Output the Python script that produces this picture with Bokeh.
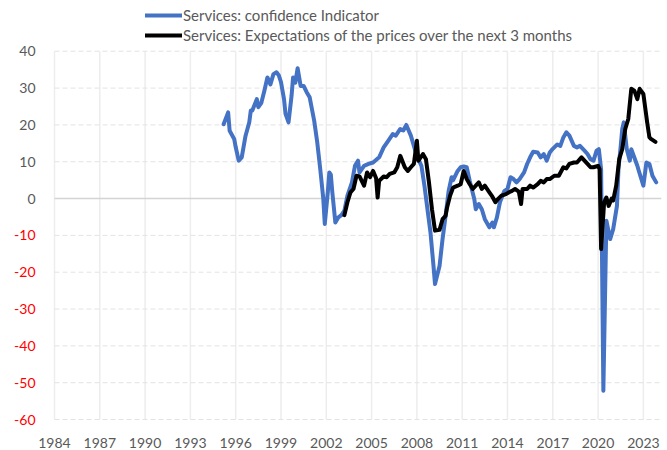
from bokeh.plotting import figure
from bokeh.models import Range1d, FixedTicker, Legend, LegendItem, Label
from bokeh.embed import file_html
from bokeh.resources import INLINE

# ---- data ----
blue_years = [1995.2, 1995.5, 1995.6, 1995.9, 1996.0, 1996.2, 1996.4, 1996.65, 1996.9, 1997.0,
              1997.1, 1997.4, 1997.5, 1997.7, 1997.9, 1998.1, 1998.3, 1998.5, 1998.7, 1998.85,
              1999.0, 1999.2, 1999.3, 1999.5, 1999.7, 1999.8, 1999.95, 2000.1, 2000.3, 2000.5,
              2000.7, 2000.9, 2001.2, 2001.4, 2001.6, 2001.8, 2001.9, 2002.1, 2002.2, 2002.3,
              2002.4, 2002.6, 2002.8, 2003.0, 2003.2, 2003.4, 2003.7, 2003.9, 2004.1, 2004.2,
              2004.5, 2004.8, 2005.1, 2005.5, 2005.8, 2006.1, 2006.4, 2006.6, 2006.9, 2007.1,
              2007.3, 2007.6, 2007.8, 2008.0, 2008.3, 2008.5, 2008.7, 2008.9, 2009.1, 2009.2,
              2009.5, 2009.7, 2009.9, 2010.1, 2010.3, 2010.4, 2010.7, 2010.9, 2011.1, 2011.3,
              2011.5, 2011.8, 2011.9, 2012.1, 2012.3, 2012.5, 2012.8, 2013.0, 2013.1, 2013.3,
              2013.5, 2013.8, 2014.0, 2014.2, 2014.4, 2014.6, 2014.8, 2015.1, 2015.3, 2015.5,
              2015.7, 2016.0, 2016.2, 2016.4, 2016.6, 2016.8, 2017.0, 2017.3, 2017.5, 2017.7,
              2017.9, 2018.1, 2018.4, 2018.6, 2018.8, 2019.1, 2019.3, 2019.5, 2019.7, 2019.9,
              2020.05, 2020.2, 2020.35, 2020.55, 2020.8, 2021.0, 2021.25, 2021.35, 2021.5, 2021.6,
              2021.7, 2021.9, 2022.1, 2022.2, 2022.6, 2022.7, 2023.0, 2023.2, 2023.4, 2023.6,
              2023.85]
blue_values = [20.2, 23.4, 18.4, 16.2, 14.0, 10.3, 11.2, 17.0, 20.7, 23.9,
               23.9, 27.0, 24.8, 26.0, 29.3, 32.9, 31.0, 33.8, 34.3, 33.5,
               31.6, 27.0, 23.0, 20.7, 27.9, 32.9, 31.5, 35.4, 30.6, 30.6,
               28.9, 27.5, 21.1, 15.3, 8.0, 0.0, -6.9, 1.7, 7.1, 6.5,
               1.7, -6.5, -5.1, -4.5, -3.3, 0.8, 4.4, 8.9, 10.3, 7.1,
               8.9, 9.4, 9.8, 11.2, 13.9, 15.7, 17.5, 17.1, 18.9, 18.5,
               20.0, 17.1, 14.3, 11.6, 8.9, 3.5, -2.9, -9.2, -18.3, -23.2,
               -18.3, -11.0, -4.7, 2.0, 5.8, 5.0, 7.5, 8.5, 8.7, 8.5,
               4.8, -0.1, -2.9, -1.5, -2.9, -5.6, -7.8, -6.5, -7.8, -5.1,
               -1.0, 2.1, 2.6, 5.8, 5.3, 4.4, 5.3, 7.1, 9.4, 11.2,
               12.7, 12.5, 11.2, 12.1, 10.3, 12.5, 13.5, 14.7, 14.3, 16.6,
               18.0, 17.1, 14.3, 13.9, 14.3, 13.0, 12.1, 10.7, 10.3, 13.0,
               13.4, 8.0, -52.2, -6.0, -11.0, -8.3, -2.0, 8.0, 14.3, 18.9,
               20.7, 13.4, 10.3, 13.4, 8.9, 7.5, 3.5, 9.8, 9.4, 6.2,
               4.4]

black_years = [2003.2, 2003.4, 2003.6, 2003.8, 2004.0, 2004.2, 2004.5, 2004.7, 2004.9, 2005.1,
               2005.3, 2005.4, 2005.5, 2005.8, 2006.0, 2006.2, 2006.5, 2006.7, 2006.9, 2007.2,
               2007.4, 2007.6, 2007.8, 2008.0, 2008.1, 2008.4, 2008.6, 2008.8, 2009.0, 2009.2,
               2009.5, 2009.7, 2009.9, 2010.0, 2010.2, 2010.4, 2010.7, 2010.9, 2011.1, 2011.3,
               2011.5, 2011.7, 2011.9, 2012.1, 2012.3, 2012.5, 2012.8, 2013.0, 2013.2, 2013.4,
               2013.6, 2013.9, 2014.1, 2014.3, 2014.5, 2014.75, 2014.9, 2015.0, 2015.3, 2015.5,
               2015.7, 2016.0, 2016.2, 2016.4, 2016.6, 2016.8, 2017.1, 2017.4, 2017.7, 2017.9,
               2018.1, 2018.4, 2018.6, 2018.9, 2019.1, 2019.3, 2019.5, 2019.7, 2020.0, 2020.1,
               2020.2, 2020.4, 2020.55, 2020.7, 2020.9, 2021.0, 2021.2, 2021.4, 2021.6, 2021.8,
               2022.0, 2022.2, 2022.4, 2022.6, 2022.75, 2023.0, 2023.25, 2023.4, 2023.5, 2023.8]
black_values = [-4.5, -1.0, 1.7, 2.6, 6.2, 6.0, 3.5, 7.1, 5.8, 7.5,
                5.5, 0.3, 4.8, 6.0, 5.8, 6.7, 7.1, 8.5, 11.6, 8.5,
                7.5, 8.5, 9.4, 15.7, 10.3, 12.1, 10.7, 4.4, -2.9, -8.7,
                -8.5, -5.6, -4.7, -2.4, 0.8, 3.0, 3.5, 3.9, 7.5, 5.3,
                3.9, 2.6, 3.5, 4.4, 2.6, 3.5, 1.7, 0.5, -1.0, 0.0,
                0.8, 1.2, 1.7, 2.1, 2.6, 1.9, -1.5, 2.6, 2.6, 3.5,
                3.0, 3.9, 4.8, 4.4, 5.3, 5.3, 6.2, 6.2, 8.5, 8.2,
                9.4, 9.8, 9.8, 11.2, 10.3, 9.4, 8.5, 8.5, 8.9, 8.0,
                -13.7, -1.0, 0.3, -2.0, 0.0, -0.5, 3.5, 10.7, 13.4, 18.9,
                21.6, 29.8, 29.3, 27.0, 29.8, 28.4, 20.7, 16.6, 16.2, 15.4]

x_ticks = [1984, 1987, 1990, 1993, 1996, 1999, 2002, 2005, 2008, 2011, 2014, 2017, 2020, 2023]
y_ticks = [-60, -50, -40, -30, -20, -10, 0, 10, 20, 30, 40]
x_end = 2024.2

series_names = ["Services: confidence Indicator",
                "Services: Expectations of the prices over the next 3 months"]

FONT = "Lato"
GREY = "#595959"

# frame covers the whole canvas except the x-axis strip, so that the legend
# and the value labels lie inside it (annotations are clipped to the frame)
PX_PER_YEAR = 15.1
PX_PER_UNIT = 3.7
x_start = x_ticks[0] - 54 / PX_PER_YEAR
y_top = y_ticks[-1] + 51 / PX_PER_UNIT
y_bottom = y_ticks[0] - 9 / PX_PER_UNIT

p = figure(width=667, height=450, output_backend="svg", toolbar_location=None,
           x_range=Range1d(x_start, x_end), y_range=Range1d(y_bottom, y_top),
           y_axis_location=None,
           min_border_left=0, min_border_right=6, min_border_top=0, min_border_bottom=20)
p.outline_line_color = None
p.background_fill_color = "white"
p.border_fill_color = "white"
p.xgrid.visible = False
p.ygrid.visible = False

# x axis
p.xaxis.ticker = FixedTicker(ticks=x_ticks)
p.xaxis.axis_line_color = None
p.xaxis.major_tick_line_color = None
p.xaxis.minor_tick_line_color = None
p.xaxis.major_label_standoff = 3
p.xaxis.major_label_text_font = FONT
p.xaxis.major_label_text_font_size = "14px"
p.xaxis.major_label_text_color = GREY

# grid lines (only over the value area)
p.segment(x0=x_ticks, x1=x_ticks, y0=[y_ticks[0]] * len(x_ticks), y1=[y_ticks[-1]] * len(x_ticks),
          line_color="#ededed", line_width=1.5)
other = [t for t in y_ticks if t != 0]
p.segment(x0=[x_ticks[0]] * len(other), x1=[x_end] * len(other), y0=other, y1=other,
          line_color="#e3e3e3", line_width=1, line_dash="5 3")
p.segment(x0=[x_ticks[0]], x1=[x_end], y0=[0], y1=[0], line_color="#d4d4d4", line_width=1.5)

# value labels (negative in red)
for t in y_ticks:
    p.add_layout(Label(x=x_ticks[0], y=t, x_offset=-19, text=str(t),
                       text_align="right", text_baseline="middle",
                       text_font=FONT, text_font_size="14px",
                       text_color="red" if t < 0 else GREY))

r1 = p.line(blue_years, blue_values, line_color="#4472C4", line_width=4,
            line_join="round", line_cap="round")
r2 = p.line(black_years, black_values, line_color="black", line_width=4,
            line_join="round", line_cap="round")

legend = Legend(items=[LegendItem(label=series_names[0], renderers=[r1]),
                       LegendItem(label=series_names[1], renderers=[r2])],
                location=(145, 383), orientation="vertical",
                label_text_font=FONT, label_text_font_size="15px",
                label_text_color=GREY, glyph_width=37, glyph_height=20,
                label_height=20, label_standoff=1, spacing=0, padding=0, margin=0,
                border_line_color=None, background_fill_alpha=0)
p.add_layout(legend, "center")

open("out.html", "w").write(file_html(p, INLINE))
